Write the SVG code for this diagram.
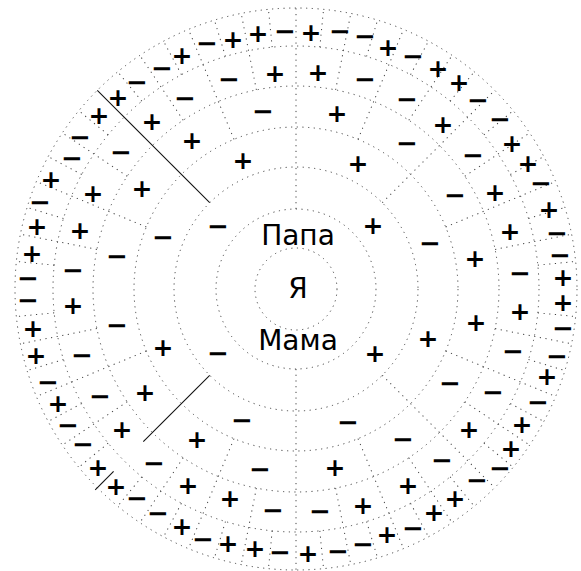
<svg xmlns="http://www.w3.org/2000/svg" xmlns:xlink="http://www.w3.org/1999/xlink" width="581" height="571" viewBox="0 0 581 571">
<style>
.ring{fill:none;stroke:#444;stroke-width:1;stroke-dasharray:1.2 4.5}
.div{stroke:#444;stroke-width:1;stroke-dasharray:1.2 4.5}
.solid{stroke:#111;stroke-width:1.1}
.lbl{font-family:"DejaVu Sans","Noto Sans",sans-serif;font-size:28px;text-anchor:middle;fill:#000}
.p,.m{font-family:"DejaVu Sans","Noto Sans",sans-serif;font-weight:bold;text-anchor:middle;fill:#000}
.p{font-size:25px}
.m{font-size:26px}
</style>
<defs>
<line id="r2" class="div" x1="376" y1="289" x2="577" y2="289"/>
<line id="r3" class="div" x1="418" y1="289" x2="577" y2="289"/>
<line id="r4" class="div" x1="458" y1="289" x2="577" y2="289"/>
<line id="r5" class="div" x1="499" y1="289" x2="577" y2="289"/>
<line id="r6" class="div" x1="539" y1="289" x2="577" y2="289"/>
</defs>
<rect width="581" height="571" fill="#fff"/>
<g id="rings">
<circle class="ring" cx="296" cy="289" r="41"/>
<circle class="ring" cx="296" cy="289" r="80"/>
<circle class="ring" cx="296" cy="289" r="122"/>
<circle class="ring" cx="296" cy="289" r="162"/>
<circle class="ring" cx="296" cy="289" r="203"/>
<circle class="ring" cx="296" cy="289" r="243"/>
<circle class="ring" cx="296" cy="289" r="281"/>
</g>
<g id="connectors">
<use xlink:href="#r2" transform="rotate(90 296 289)"/>
<use xlink:href="#r2" transform="rotate(270 296 289)"/>
<use xlink:href="#r3" transform="rotate(45 296 289)"/>
<use xlink:href="#r3" transform="rotate(315 296 289)"/>
<line class="solid" x1="209.7" y1="202.7" x2="97.3" y2="90.3"/>
<line class="solid" x1="209.7" y1="375.3" x2="143.3" y2="441.7"/>
<line class="solid" x1="113.6" y1="471.4" x2="95.2" y2="489.8"/>
<use xlink:href="#r4" transform="rotate(22.5 296 289)"/>
<use xlink:href="#r4" transform="rotate(67.5 296 289)"/>
<use xlink:href="#r4" transform="rotate(112.5 296 289)"/>
<use xlink:href="#r4" transform="rotate(157.5 296 289)"/>
<use xlink:href="#r4" transform="rotate(202.5 296 289)"/>
<use xlink:href="#r4" transform="rotate(247.5 296 289)"/>
<use xlink:href="#r4" transform="rotate(292.5 296 289)"/>
<use xlink:href="#r4" transform="rotate(337.5 296 289)"/>
<use xlink:href="#r5" transform="rotate(11.25 296 289)"/>
<use xlink:href="#r5" transform="rotate(33.75 296 289)"/>
<use xlink:href="#r5" transform="rotate(56.25 296 289)"/>
<use xlink:href="#r5" transform="rotate(78.75 296 289)"/>
<use xlink:href="#r5" transform="rotate(101.25 296 289)"/>
<use xlink:href="#r5" transform="rotate(123.75 296 289)"/>
<use xlink:href="#r5" transform="rotate(146.25 296 289)"/>
<use xlink:href="#r5" transform="rotate(168.75 296 289)"/>
<use xlink:href="#r5" transform="rotate(191.25 296 289)"/>
<use xlink:href="#r5" transform="rotate(213.75 296 289)"/>
<use xlink:href="#r5" transform="rotate(236.25 296 289)"/>
<use xlink:href="#r5" transform="rotate(258.75 296 289)"/>
<use xlink:href="#r5" transform="rotate(281.25 296 289)"/>
<use xlink:href="#r5" transform="rotate(303.75 296 289)"/>
<use xlink:href="#r5" transform="rotate(326.25 296 289)"/>
<use xlink:href="#r5" transform="rotate(348.75 296 289)"/>
<use xlink:href="#r6" transform="rotate(5.625 296 289)"/>
<use xlink:href="#r6" transform="rotate(16.875 296 289)"/>
<use xlink:href="#r6" transform="rotate(28.125 296 289)"/>
<use xlink:href="#r6" transform="rotate(39.375 296 289)"/>
<use xlink:href="#r6" transform="rotate(50.625 296 289)"/>
<use xlink:href="#r6" transform="rotate(61.875 296 289)"/>
<use xlink:href="#r6" transform="rotate(73.125 296 289)"/>
<use xlink:href="#r6" transform="rotate(84.375 296 289)"/>
<use xlink:href="#r6" transform="rotate(95.625 296 289)"/>
<use xlink:href="#r6" transform="rotate(106.875 296 289)"/>
<use xlink:href="#r6" transform="rotate(118.125 296 289)"/>
<use xlink:href="#r6" transform="rotate(129.375 296 289)"/>
<use xlink:href="#r6" transform="rotate(140.625 296 289)"/>
<use xlink:href="#r6" transform="rotate(151.875 296 289)"/>
<use xlink:href="#r6" transform="rotate(163.125 296 289)"/>
<use xlink:href="#r6" transform="rotate(174.375 296 289)"/>
<use xlink:href="#r6" transform="rotate(185.625 296 289)"/>
<use xlink:href="#r6" transform="rotate(196.875 296 289)"/>
<use xlink:href="#r6" transform="rotate(208.125 296 289)"/>
<use xlink:href="#r6" transform="rotate(219.375 296 289)"/>
<use xlink:href="#r6" transform="rotate(230.625 296 289)"/>
<use xlink:href="#r6" transform="rotate(241.875 296 289)"/>
<use xlink:href="#r6" transform="rotate(253.125 296 289)"/>
<use xlink:href="#r6" transform="rotate(264.375 296 289)"/>
<use xlink:href="#r6" transform="rotate(275.625 296 289)"/>
<use xlink:href="#r6" transform="rotate(286.875 296 289)"/>
<use xlink:href="#r6" transform="rotate(298.125 296 289)"/>
<use xlink:href="#r6" transform="rotate(309.375 296 289)"/>
<use xlink:href="#r6" transform="rotate(320.625 296 289)"/>
<use xlink:href="#r6" transform="rotate(331.875 296 289)"/>
<use xlink:href="#r6" transform="rotate(343.125 296 289)"/>
<use xlink:href="#r6" transform="rotate(354.375 296 289)"/>
</g>
<g id="labels">
<text id="papa" class="lbl" x="298" y="245">Папа</text>
<text id="ya" class="lbl" x="298" y="298">Я</text>
<text id="mama" class="lbl" x="298" y="350">Мама</text>
</g>
<g id="signs" transform="translate(0,8.7)">
<g id="gen2">
<text class="m" x="218" y="226">−</text><text class="p" x="373" y="225">+</text><text class="m" x="218" y="353">−</text><text class="p" x="375" y="353">+</text>
</g>
<g id="gen3">
<text class="p" x="243" y="160">+</text><text class="p" x="358" y="163">+</text><text class="m" x="430" y="243">−</text><text class="m" x="163" y="237">−</text>
<text class="p" x="163" y="347">+</text><text class="m" x="242" y="420">−</text><text class="m" x="348" y="422">−</text><text class="p" x="428" y="338">+</text>
</g>
<g id="gen4">
<text class="p" x="192" y="140">+</text><text class="m" x="263" y="111">−</text><text class="p" x="337" y="113">+</text><text class="m" x="407" y="143">−</text>
<text class="m" x="455" y="195">−</text><text class="p" x="475" y="258">+</text><text class="p" x="142" y="188">+</text><text class="m" x="117" y="256">−</text>
<text class="m" x="117" y="325">−</text><text class="p" x="145" y="392">+</text><text class="p" x="197" y="439">+</text><text class="m" x="260" y="469">−</text>
<text class="p" x="335" y="467">+</text><text class="m" x="403" y="439">−</text><text class="m" x="450" y="383">−</text><text class="p" x="476" y="322">+</text>
</g>
<g id="gen5">
<text class="p" x="275" y="73">+</text><text class="m" x="229" y="79">−</text><text class="m" x="185" y="98">−</text><text class="p" x="152" y="121">+</text>
<text class="m" x="121" y="152">−</text><text class="p" x="93" y="193">+</text><text class="p" x="80" y="230">+</text><text class="m" x="73" y="270">−</text>
<text class="p" x="318" y="72">+</text><text class="m" x="365" y="79">−</text><text class="m" x="407" y="99">−</text><text class="p" x="443" y="124">+</text>
<text class="m" x="473" y="155">−</text><text class="p" x="495" y="192">+</text><text class="p" x="510" y="231">+</text><text class="m" x="520" y="273">−</text>
<text class="p" x="73" y="305">+</text><text class="m" x="82" y="355">−</text><text class="m" x="100" y="396">−</text><text class="p" x="122" y="429">+</text>
<text class="m" x="154" y="463">−</text><text class="p" x="188" y="485">+</text><text class="p" x="230" y="498">+</text><text class="m" x="273" y="510">−</text>
<text class="m" x="320" y="511">−</text><text class="p" x="363" y="505">+</text><text class="p" x="408" y="485">+</text><text class="m" x="442" y="460">−</text>
<text class="p" x="469" y="429">+</text><text class="m" x="493" y="392">−</text><text class="m" x="513" y="351">−</text><text class="p" x="520" y="311">+</text>
</g>
<g id="gen6">
<text class="m" x="285" y="31">−</text><text class="p" x="258" y="33">+</text><text class="p" x="233" y="39">+</text><text class="m" x="207" y="43">−</text>
<text class="p" x="182" y="55">+</text><text class="m" x="162" y="68">−</text><text class="m" x="137" y="82">−</text><text class="p" x="118" y="97">+</text>
<text class="p" x="99" y="115">+</text><text class="m" x="80" y="137">−</text><text class="m" x="72" y="158">−</text><text class="p" x="51" y="179">+</text>
<text class="m" x="40" y="202">−</text><text class="p" x="37" y="226">+</text><text class="p" x="32" y="253">+</text><text class="m" x="28" y="278">−</text>
<text class="p" x="311" y="32">+</text><text class="m" x="340" y="31">−</text><text class="m" x="365" y="36">−</text><text class="p" x="388" y="47">+</text>
<text class="m" x="413" y="56">−</text><text class="p" x="438" y="68">+</text><text class="p" x="459" y="82">+</text><text class="m" x="478" y="100">−</text>
<text class="m" x="500" y="119">−</text><text class="p" x="512" y="143">+</text><text class="p" x="528" y="163">+</text><text class="m" x="541" y="183">−</text>
<text class="p" x="549" y="209">+</text><text class="m" x="557" y="233">−</text><text class="m" x="560" y="255">−</text><text class="p" x="563" y="277">+</text>
<text class="m" x="28" y="300">−</text><text class="p" x="33" y="328">+</text><text class="p" x="36" y="355">+</text><text class="m" x="48" y="382">−</text>
<text class="p" x="58" y="403">+</text><text class="m" x="68" y="425">−</text><text class="m" x="83" y="444">−</text><text class="p" x="98" y="467">+</text>
<text class="p" x="116" y="486">+</text><text class="m" x="137" y="498">−</text><text class="m" x="158" y="513">−</text><text class="p" x="182" y="526">+</text>
<text class="m" x="203" y="539">−</text><text class="p" x="228" y="543">+</text><text class="p" x="255" y="548">+</text><text class="m" x="280" y="552">−</text>
<text class="p" x="563" y="302">+</text><text class="m" x="563" y="328">−</text><text class="m" x="557" y="356">−</text><text class="p" x="547" y="376">+</text>
<text class="m" x="538" y="402">−</text><text class="p" x="522" y="424">+</text><text class="p" x="511" y="448">+</text><text class="m" x="500" y="468">−</text>
<text class="m" x="477" y="480">−</text><text class="p" x="455" y="498">+</text><text class="p" x="434" y="512">+</text><text class="m" x="413" y="528">−</text>
<text class="p" x="387" y="534">+</text><text class="m" x="363" y="544">−</text><text class="m" x="338" y="551">−</text><text class="p" x="308" y="553">+</text>
</g>
</g>
</svg>
